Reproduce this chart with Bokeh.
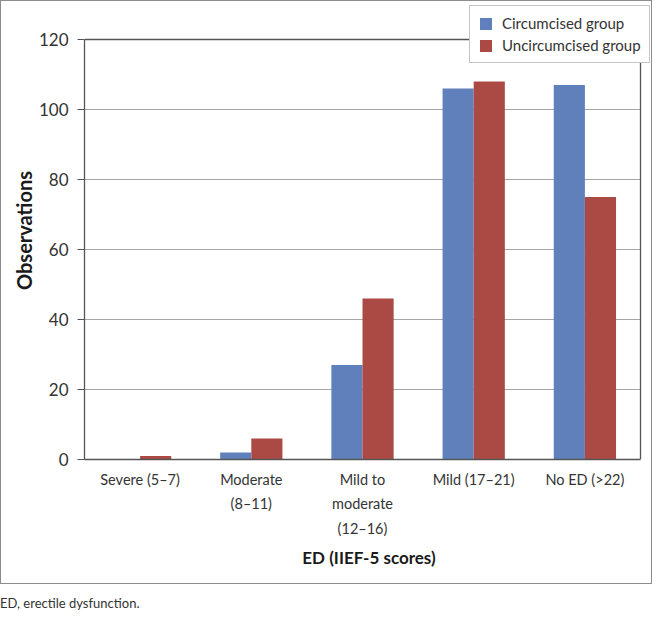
from bokeh.plotting import figure
from bokeh.models import ColumnDataSource, Range1d, Div, FixedTicker
from bokeh.layouts import column
from bokeh.embed import file_html
from bokeh.resources import INLINE

categories = ["Severe (5–7)", "Moderate\n(8–11)", "Mild to\nmoderate\n(12–16)", "Mild (17–21)", "No ED (>22)"]
circumcised = [0, 2, 27, 106, 107]
uncircumcised = [1, 6, 46, 108, 75]
series_names = ["Circumcised group", "Uncircumcised group"]
y_ticks = [0, 20, 40, 60, 80, 100, 120]

FONT = "Lato"
DARK = "#555555"
BAR_W = 0.28

# layout (canvas pixels)
W, H = 652, 584
FRAME_LEFT, FRAME_BOTTOM_PX = 83, 458
AXIS_RIGHT_PX = 639
Y_TOP_PX = 38

n = len(categories)
xpos = list(range(n))
frame_w = W - FRAME_LEFT
cat_px = (AXIS_RIGHT_PX - FRAME_LEFT) / n
x_start = -0.5
x_end = x_start + frame_w / cat_px
y_max = y_ticks[-1]
y_end = y_max * FRAME_BOTTOM_PX / (FRAME_BOTTOM_PX - Y_TOP_PX)

src = ColumnDataSource(dict(
    xc=[x - BAR_W / 2 for x in xpos],
    xu=[x + BAR_W / 2 for x in xpos],
    c=circumcised, u=uncircumcised))

p = figure(x_range=Range1d(x_start, x_end), y_range=Range1d(0, y_end),
           width=W, height=H, output_backend="svg", toolbar_location=None,
           min_border_left=FRAME_LEFT, min_border_top=0, min_border_right=0,
           min_border_bottom=H - FRAME_BOTTOM_PX)
p.styles = {"border": "1px solid #8c8c8c"}
p.outline_line_color = None
p.xgrid.grid_line_color = None
p.ygrid.grid_line_color = None

x_lo, x_hi = -0.5, n - 0.5
grid_vals = y_ticks[1:-1]
g = p.segment(x0=[x_lo] * len(grid_vals), x1=[x_hi] * len(grid_vals),
              y0=grid_vals, y1=grid_vals, line_color="#a6a6a6", line_width=1)
g.level = "underlay"
b1 = p.segment(x0=[x_lo], x1=[x_hi], y0=[y_max], y1=[y_max], line_color=DARK, line_width=1.3)
b2 = p.segment(x0=[x_hi], x1=[x_hi], y0=[0], y1=[y_max], line_color=DARK, line_width=1.3)
b1.level = "underlay"
b2.level = "underlay"

p.vbar(x="xc", top="c", width=BAR_W, source=src,
       fill_color="#6080BC", line_color=None, legend_label=series_names[0])
p.vbar(x="xu", top="u", width=BAR_W, source=src,
       fill_color="#AB4A45", line_color=None, legend_label=series_names[1])

p.yaxis.ticker = FixedTicker(ticks=y_ticks)
p.yaxis.bounds = (0, y_max)
p.yaxis.axis_line_color = DARK
p.yaxis.axis_line_width = 1.3
p.yaxis.major_tick_line_color = DARK
p.yaxis.major_tick_out = 7
p.yaxis.major_tick_in = 0
p.yaxis.minor_tick_line_color = None
p.yaxis.major_label_standoff = 9
p.yaxis.major_label_text_font = FONT
p.yaxis.major_label_text_font_size = "17px"
p.yaxis.major_label_text_color = "#333333"
p.yaxis.axis_label = "Observations"
p.yaxis.axis_label_text_font = FONT
p.yaxis.axis_label_text_font_style = "bold"
p.yaxis.axis_label_text_font_size = "20px"
p.yaxis.axis_label_text_color = "#1a1a1a"
p.yaxis.axis_label_standoff = 0

p.xaxis.ticker = FixedTicker(ticks=xpos)
p.xaxis.major_label_overrides = {i: c for i, c in zip(xpos, categories)}
p.xaxis.bounds = (x_lo, x_hi)
p.xaxis.axis_line_color = DARK
p.xaxis.axis_line_width = 1.3
p.xaxis.major_tick_line_color = None
p.xaxis.minor_tick_line_color = None
p.xaxis.major_label_standoff = 5
p.xaxis.major_label_text_font = FONT
p.xaxis.major_label_text_font_size = "14.5px"
p.xaxis.major_label_text_color = "#333333"
p.xaxis.major_label_text_line_height = 1.45
p.xaxis.axis_label = "ED (IIEF-5 scores)"
p.xaxis.axis_label_text_font = FONT
p.xaxis.axis_label_text_font_style = "bold"
p.xaxis.axis_label_text_font_size = "17px"
p.xaxis.axis_label_text_color = "#1a1a1a"
p.xaxis.axis_label_standoff = 7

lg = p.legend[0]
lg.location = (385, FRAME_BOTTOM_PX - 62)
lg.label_text_font = FONT
lg.label_text_font_size = "15px"
lg.label_text_color = "#333333"
lg.label_height = 18
lg.glyph_height = 15
lg.glyph_width = 15
lg.label_standoff = 9
lg.spacing = 4
lg.padding = 8
lg.margin = 0
lg.border_line_color = "#8c8c8c"
lg.border_line_width = 1
lg.background_fill_alpha = 1.0

caption = Div(text="ED, erectile dysfunction.", margin=(10, 0, 0, 0),
              styles={"font-family": FONT, "font-size": "13px", "color": "#333333"})

layout = column(p, caption, spacing=0)

open("out.html", "w").write(file_html(layout, INLINE))
